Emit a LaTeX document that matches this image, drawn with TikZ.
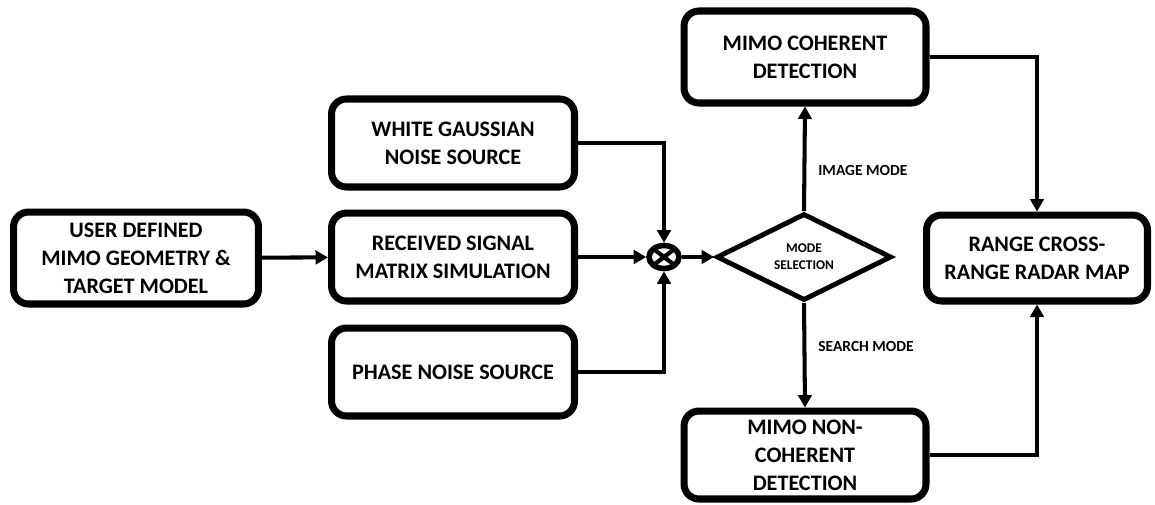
\documentclass[tikz,border=0pt]{standalone}
\usepackage{fontspec}
\setmainfont{Carlito}
\usetikzlibrary{shapes.geometric, arrows.meta, positioning, calc}

\tikzset{
  block/.style={draw, line width=4pt, rounded corners=0.3cm, align=center,
    font=\fontsize{12.6}{16}\selectfont\bfseries, inner sep=2pt},
  conn/.style={line width=2.3pt, -{Triangle[length=0.25cm, width=0.27cm]}},
  wire/.style={line width=2.3pt},
  tag/.style={font=\fontsize{8.8}{10}\selectfont\bfseries, inner sep=0pt},
}

\begin{document}
\begin{tikzpicture}[x=0.02cm, y=-0.02cm]
\useasboundingbox (0,0) rectangle (1155,504);
% Input blocks
\node[block, minimum width=4.9cm, minimum height=1.84cm] (user) at (136,258)
  {USER DEFINED\\MIMO GEOMETRY \&\\TARGET MODEL};
\node[block, minimum width=4.86cm, minimum height=1.76cm] (wgn) at (453,143)
  {WHITE GAUSSIAN\\NOISE SOURCE};
\node[block, minimum width=4.86cm, minimum height=1.76cm] (recv) at (453,257)
  {RECEIVED SIGNAL\\MATRIX SIMULATION};
\node[block, minimum width=4.86cm, minimum height=1.76cm] (phase) at (453,372)
  {PHASE NOISE SOURCE};
% Mixer
\node[ellipse, draw, line width=3.2pt, minimum width=0.6cm, minimum height=0.46cm, inner sep=0pt,
  path picture={
    \draw[line width=2.4pt] (path picture bounding box.north west) -- (path picture bounding box.south east);
    \draw[line width=2.4pt] (path picture bounding box.south west) -- (path picture bounding box.north east);
  }] (mix) at (664,257) {};
% Mode selection
\node[diamond, draw, line width=2.8pt, minimum width=3.5cm, minimum height=1.74cm, inner sep=0pt,
  align=center, font=\fontsize{7.6}{9.6}\selectfont\bfseries] (mode) at (804,257) {MODE\\SELECTION};
% Detection blocks
\node[block, minimum width=4.84cm, minimum height=1.84cm] (coh) at (805,57)
  {MIMO COHERENT\\DETECTION};
\node[block, minimum width=4.84cm, minimum height=1.76cm] (noncoh) at (805,455)
  {MIMO NON-\\COHERENT\\DETECTION};
\node[block, minimum width=4.42cm, minimum height=1.72cm] (map) at (1037,258)
  {RANGE CROSS-\\RANGE RADAR MAP};
% Labels
\node[tag, anchor=west] (imglbl) at (818,170) {IMAGE MODE};
\node[tag, anchor=west] (srchlbl) at (818,346) {SEARCH MODE};
% Connections
\draw[conn] (user) -- (recv);
\draw[conn] (recv) -- (mix);
\draw[conn] (wgn.east) -| (mix.north);
\draw[conn] (phase.east) -| (mix.south);
\draw[conn] (mix) -- (mode.west);
\draw[conn] (mode.north) -- (coh.south);
\draw[conn] (mode.south) -- (noncoh.north);
\draw[conn] (coh.east) -| (map.north);
\draw[conn] (noncoh.east) -| (map.south);
\end{tikzpicture}
\end{document}
